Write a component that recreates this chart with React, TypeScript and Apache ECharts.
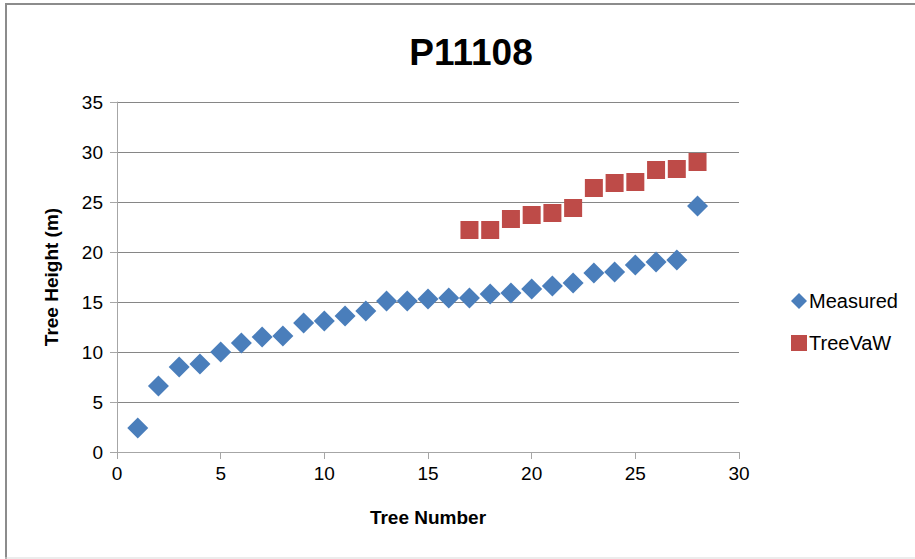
import React, { useEffect, useRef } from "react";
import * as echarts from "echarts";

// Tree numbers and heights (m)
const measuredTrees = [1, 2, 3, 4, 5, 6, 7, 8, 9, 10, 11, 12, 13, 14, 15, 16, 17, 18, 19, 20, 21, 22, 23, 24, 25, 26, 27, 28];
const measuredHeights = [2.4, 6.6, 8.5, 8.8, 10.0, 10.9, 11.5, 11.6, 12.9, 13.1, 13.6, 14.1, 15.1, 15.1, 15.3, 15.4, 15.4, 15.8, 15.9, 16.3, 16.6, 16.9, 17.9, 18.0, 18.7, 19.0, 19.2, 24.6];

const treevawTrees = [17, 18, 19, 20, 21, 22, 23, 24, 25, 26, 27, 28];
const treevawHeights = [22.2, 22.2, 23.3, 23.7, 23.9, 24.4, 26.4, 26.9, 27.0, 28.2, 28.3, 29.0];

const FONT = "'Liberation Sans', Arial, sans-serif";

export default function App() {
  const ref = useRef<HTMLDivElement>(null);

  useEffect(() => {
    if (!ref.current) return;
    const chart = echarts.init(ref.current, undefined, { renderer: "svg" });
    chart.setOption({
      animation: false,
      backgroundColor: "#ffffff",
      textStyle: { fontFamily: FONT },
      title: {
        text: "P11108",
        left: 466,
        top: 29,
        textAlign: "center",
        textStyle: { fontFamily: FONT, fontSize: 37, fontWeight: "bold", color: "#000" },
      },
      graphic: [
        { type: "line", shape: { x1: 6, y1: 4, x2: 6, y2: 559 }, style: { stroke: "#8c8c8c", lineWidth: 2 } },
        { type: "line", shape: { x1: 5, y1: 4, x2: 915, y2: 4 }, style: { stroke: "#8c8c8c", lineWidth: 2 } },
        { type: "line", shape: { x1: 5, y1: 558, x2: 915, y2: 558 }, style: { stroke: "#d9d9d9", lineWidth: 1 } },
      ],
      legend: {
        orient: "vertical",
        left: 786,
        top: 286,
        itemGap: 22,
        itemWidth: 16,
        itemHeight: 16,
        textStyle: { fontFamily: FONT, fontSize: 20, color: "#000", padding: [0, 0, 0, -3] },
        data: [
          { name: "Measured", icon: "diamond" },
          { name: "TreeVaW", icon: "rect" },
        ],
      },
      grid: { left: 117, right: 176, top: 102, bottom: 107 },
      xAxis: {
        type: "value",
        min: 0,
        max: 30,
        interval: 5,
        name: "Tree Number",
        nameLocation: "middle",
        nameGap: 56,
        nameTextStyle: { fontFamily: FONT, fontSize: 19, fontWeight: "bold", color: "#000" },
        axisLine: { show: true, onZero: false, lineStyle: { color: "#a6a6a6", width: 1 } },
        axisTick: { show: true, length: 7, lineStyle: { color: "#a6a6a6" } },
        axisLabel: { fontFamily: FONT, fontSize: 19, color: "#000", margin: 12 },
        splitLine: { show: false },
      },
      yAxis: {
        type: "value",
        min: 0,
        max: 35,
        interval: 5,
        name: "Tree Height (m)",
        nameLocation: "middle",
        nameGap: 56,
        nameTextStyle: { fontFamily: FONT, fontSize: 19, fontWeight: "bold", color: "#000" },
        axisLine: { show: true, lineStyle: { color: "#a6a6a6", width: 1 } },
        axisTick: { show: true, length: 7, lineStyle: { color: "#a6a6a6" } },
        axisLabel: { fontFamily: FONT, fontSize: 19, color: "#000", margin: 14 },
        splitLine: { show: true, lineStyle: { color: "#868686", width: 1 } },
      },
      series: [
        {
          name: "Measured",
          type: "scatter",
          symbol: "diamond",
          symbolSize: 21,
          itemStyle: { color: "#4a7ebb", opacity: 1 },
          data: measuredTrees.map((t, i) => [t, measuredHeights[i]]),
        },
        {
          name: "TreeVaW",
          type: "scatter",
          symbol: "rect",
          symbolSize: 18,
          itemStyle: { color: "#be4b48", opacity: 1 },
          data: treevawTrees.map((t, i) => [t, treevawHeights[i]]),
        },
      ],
    });
    return () => chart.dispose();
  }, []);

  return (
    <div
      ref={ref}
      style={{ position: "fixed", left: 0, top: 0, width: 915, height: 559 }}
    />
  );
}
